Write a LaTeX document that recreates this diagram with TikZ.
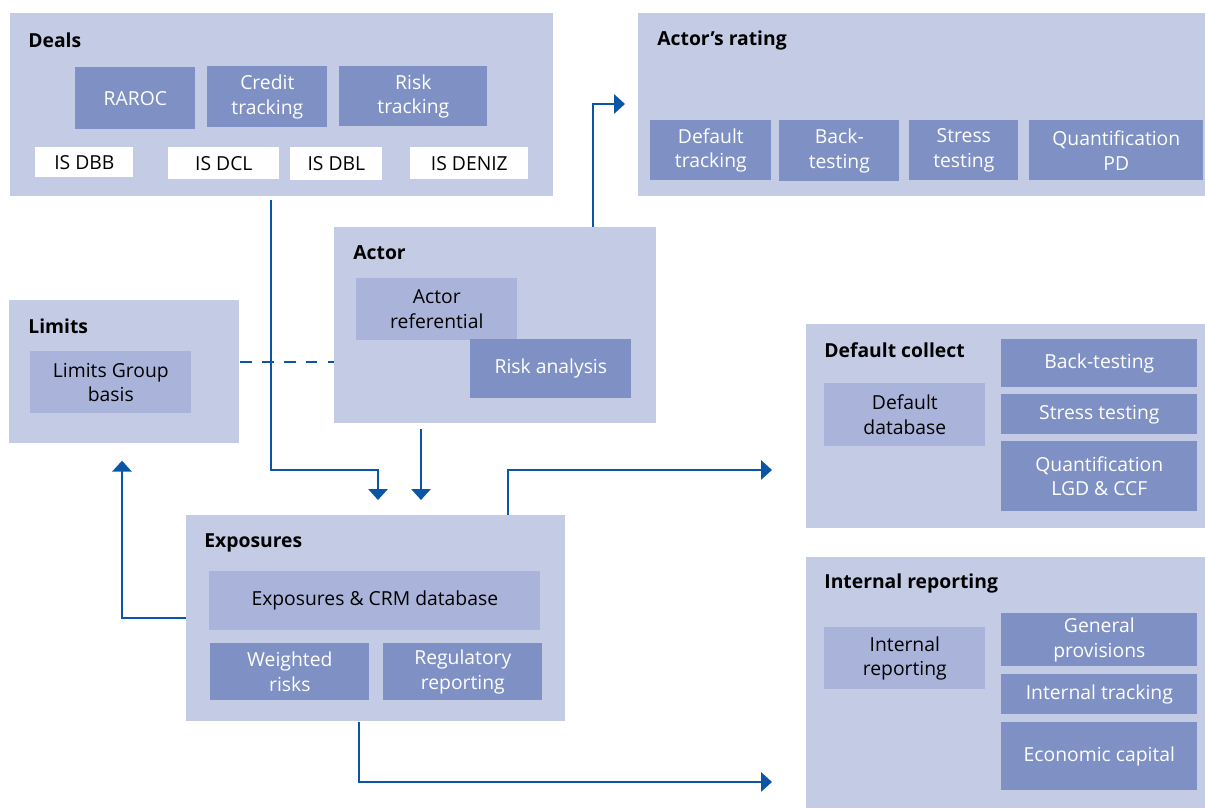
\documentclass[tikz,border=0pt]{standalone}
\usepackage{fontspec}
\setmainfont{Open Sans}
\usepackage{tikz}
\usetikzlibrary{arrows.meta}
\definecolor{outerc}{HTML}{C4CBE4}
\definecolor{darkc}{HTML}{7F91C4}
\definecolor{midc}{HTML}{AAB4DA}
\definecolor{linec}{HTML}{0A55A5}
\begin{document}
\begin{tikzpicture}[x=0.02cm, y=-0.02cm, font=\fontsize{11}{14}\selectfont, outer/.style={fill=outerc, anchor=north west, inner sep=0}, title/.style={anchor=west, inner sep=0, font=\fontsize{11}{14}\selectfont\bfseries}, dbox/.style={fill=darkc, text=white, align=center, anchor=north west, inner sep=0}, mbox/.style={fill=midc, align=center, anchor=north west, inner sep=0}, wbox/.style={fill=white, align=center, anchor=north west, inner sep=0}, n/.style={-{Triangle[length=6.2pt, width=10.8pt]}, line width=1.5pt, draw=linec}, d/.style={line width=1.5pt, draw=linec, dash pattern=on 6.8pt off 5.7pt}]
                \useasboundingbox (0,0) rectangle (1205,810);
                % deals
                \node[outer, minimum width=10.86cm, minimum height=3.66cm] (deals) at (10,13) {};
                \node[title] (dealsT) at (28,40) {Deals};
                \node[dbox, minimum width=2.40cm, minimum height=1.24cm] (raroc) at (75,67) {RAROC};
                \node[dbox, minimum width=2.40cm, minimum height=1.22cm] (credit) at (207,66) {Credit\\tracking};
                \node[dbox, minimum width=2.96cm, minimum height=1.20cm] (risktr) at (339,66) {Risk\\tracking};
                \node[wbox, minimum width=1.96cm, minimum height=0.60cm] (dbb) at (35,147) {IS DBB};
                \node[wbox, minimum width=2.22cm, minimum height=0.64cm] (dcl) at (168,147) {IS DCL};
                \node[wbox, minimum width=1.84cm, minimum height=0.66cm] (dbl) at (290,147) {IS DBL};
                \node[wbox, minimum width=2.36cm, minimum height=0.64cm] (deniz) at (410,147) {IS DENIZ};
                % actor's rating
                \node[outer, minimum width=11.34cm, minimum height=3.66cm] (rating) at (638,13) {};
                \node[title] (ratingT) at (657,40) {Actor’s rating};
                \node[dbox, minimum width=2.42cm, minimum height=1.20cm] (deftr) at (650,120) {Default\\tracking};
                \node[dbox, minimum width=2.40cm, minimum height=1.22cm] (backA) at (779,120) {Back-\\testing};
                \node[dbox, minimum width=2.18cm, minimum height=1.20cm] (stressA) at (909,120) {Stress\\testing};
                \node[dbox, minimum width=3.48cm, minimum height=1.20cm] (quantPD) at (1029,120) {Quantification\\PD};
                % actor
                \node[outer, minimum width=6.44cm, minimum height=3.92cm] (actor) at (334,227) {};
                \node[title] (actorT) at (353,253) {Actor};
                \node[mbox, minimum width=3.22cm, minimum height=1.24cm] (actref) at (356,278) {Actor\\referential};
                \node[dbox, minimum width=3.22cm, minimum height=1.18cm] (riskan) at (470,339) {Risk analysis};
                % limits
                \node[outer, minimum width=4.60cm, minimum height=2.86cm] (limits) at (9,300) {};
                \node[title] (limitsT) at (28,326) {Limits};
                \node[mbox, minimum width=3.22cm, minimum height=1.24cm] (lgb) at (30,351) {Limits Group\\basis};
                % default collect
                \node[outer, minimum width=7.98cm, minimum height=4.08cm] (dcollect) at (806,324) {};
                \node[title] (dcollectT) at (824,350) {Default collect};
                \node[mbox, minimum width=3.22cm, minimum height=1.26cm] (defdb) at (824,383) {Default\\database};
                \node[dbox, minimum width=3.92cm, minimum height=0.96cm] (backB) at (1001,339) {Back-testing};
                \node[dbox, minimum width=3.92cm, minimum height=0.80cm] (stressB) at (1001,394) {Stress testing};
                \node[dbox, minimum width=3.92cm, minimum height=1.40cm] (quantLGD) at (1001,441) {Quantification\\LGD \& CCF};
                % internal reporting
                \node[outer, minimum width=7.98cm, minimum height=5.02cm] (ireport) at (806,557) {};
                \node[title] (ireportT) at (824,583) {Internal reporting};
                \node[mbox, minimum width=3.22cm, minimum height=1.24cm] (irep) at (824,627) {Internal\\reporting};
                \node[dbox, minimum width=3.92cm, minimum height=1.06cm] (genprov) at (1001,613) {General\\provisions};
                \node[dbox, minimum width=3.92cm, minimum height=0.80cm] (inttr) at (1001,674) {Internal tracking};
                \node[dbox, minimum width=3.92cm, minimum height=1.36cm] (ecocap) at (1001,722) {Economic capital};
                % exposures
                \node[outer, minimum width=7.58cm, minimum height=4.12cm] (exposures) at (186,515) {};
                \node[title] (exposuresT) at (204,543) {Exposures};
                \node[mbox, minimum width=6.62cm, minimum height=1.18cm] (crm) at (209,571) {Exposures \& CRM database};
                \node[dbox, minimum width=3.18cm, minimum height=1.14cm] (wrisk) at (210,643) {Weighted\\risks};
                \node[dbox, minimum width=3.18cm, minimum height=1.14cm] (regrep) at (383,643) {Regulatory\\reporting};
                % edges
                \coordinate (b1) at (378,470);
                \draw[n, shorten <=2pt, shorten >=0.3cm] (deals.south -| 271,0) |- (b1) -- (exposures.north -| b1);
                \draw[n, shorten <=3pt, shorten >=0.3cm] (actor.south -| 421,0) -- (exposures.north -| 421,0);
                \draw[d] (limits.east |- 0,362) -- (actor.west |- 0,362);
                \draw[n, shorten >=0.26cm] (actor.north -| 593,0) |- (rating.west |- 0,104);
                \draw[n, shorten >=0.68cm] (exposures.north -| 508,0) |- (dcollect.west |- 0,470);
                \draw[n, shorten >=0.34cm] (exposures.west |- 0,618) -| (limits.south -| 122,0);
                \draw[n, shorten >=0.68cm] (exposures.south -| 359,0) |- (ireport.west |- 0,782);
\end{tikzpicture}
\end{document}
